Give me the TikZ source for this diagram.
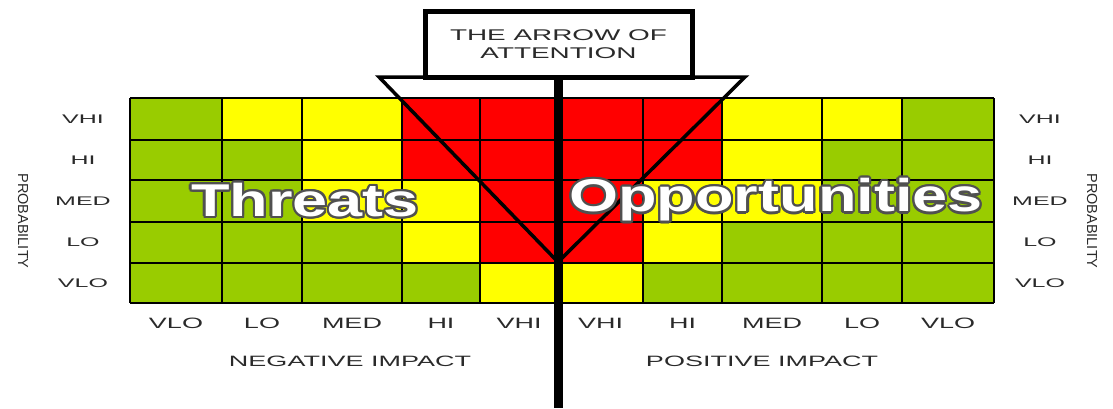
\documentclass[tikz,border=0pt]{standalone}
\usepackage{fontspec}
\setmainfont{Liberation Sans}
\newfontfamily\labfnt[FakeStretch=1.8]{Liberation Sans}
\newfontfamily\rowfnt[FakeStretch=2.0]{Liberation Sans}
\newfontfamily\bigfnt[FakeStretch=1.37]{Liberation Sans}
\definecolor{gr}{HTML}{99CC00}
\definecolor{ye}{HTML}{FFFF00}
\definecolor{rd}{HTML}{FF0000}
\definecolor{txt}{HTML}{2A2A2A}
\definecolor{outl}{HTML}{505050}
\begin{document}
\begin{tikzpicture}[x=1pt,y=-1pt,
  gridline/.style={draw=black,line width=1.4pt},
  rowlab/.style={text=txt,inner sep=0pt,font=\rowfnt\fontsize{12.5}{14}\selectfont},
  collab/.style={text=txt,inner sep=0pt,font=\labfnt\fontsize{15}{17}\selectfont},
  axislab/.style={text=txt,inner sep=0pt,font=\labfnt\fontsize{15}{17}\selectfont},
  prob/.style={text=txt,inner sep=0pt,rotate=-90,font=\fontsize{14.5}{16}\selectfont},
  attbox/.style={draw=black,fill=white,line width=5pt,inner sep=0pt,minimum width=267pt,minimum height=65.5pt,align=center,text=txt,font=\labfnt\fontsize{15.5}{17.5}\selectfont},
  tri/.style={draw=black,line width=3.5pt},
  stemline/.style={draw=black,line width=9pt},
  bigtxt/.style={inner sep=0pt,font=\bigfnt\bfseries\fontsize{46}{50}\selectfont}
]
\useasboundingbox (0,0) rectangle (1113,408);
\def\colx{{130,222,302,402,480,558,643,722,822,902,994}}
\def\rowy{{98,140,180,222,263,303}}
% cells
\foreach \row [count=\r from 0] in {{gr,ye,ye,rd,rd,rd,rd,ye,ye,gr},{gr,gr,ye,rd,rd,rd,rd,ye,gr,gr},{gr,gr,ye,ye,rd,rd,ye,ye,gr,gr},{gr,gr,gr,ye,rd,rd,ye,gr,gr,gr},{gr,gr,gr,gr,ye,ye,gr,gr,gr,gr}}{
  \foreach \c [count=\i from 0] in \row {
    \pgfmathsetmacro\xa{\colx[\i]}
    \pgfmathsetmacro\xb{\colx[\i+1]}
    \pgfmathsetmacro\ya{\rowy[\r]}
    \pgfmathsetmacro\yb{\rowy[\r+1]}
    \fill[\c] (\xa,\ya) rectangle (\xb,\yb);
  }
}
% grid lines
\foreach \x in {130,222,302,402,480,558,643,722,822,902,994}
  \draw[gridline] (\x,98) -- (\x,303);
\foreach \y in {98,140,180,222,263,303}
  \draw[gridline] (130,\y) -- (994,\y);
% row labels
\foreach \t/\yc [count=\i from 0] in {VHI/119,HI/160,MED/201,LO/242.5,VLO/283}{
  \node[rowlab] (lrow\i) at (83,\yc) {\t};
  \node[rowlab] (rrow\i) at (1040,\yc) {\t};
}
% column labels
\foreach \t/\xc [count=\i from 0] in {VLO/176,LO/262,MED/352,HI/441,VHI/519,VHI/600.5,HI/682.5,MED/772,LO/862,VLO/948}{
  \node[collab] (col\i) at (\xc,323) {\t};
}
\node[axislab] (neg) at (350,361) {NEGATIVE IMPACT};
\node[axislab] (pos) at (762,361) {POSITIVE IMPACT};
\node[prob] (probL) at (23,221) {PROBABILITY};
\node[prob] (probR) at (1092,221) {PROBABILITY};
% arrow of attention
\coordinate (tl) at (379,77);
\coordinate (tr) at (745,77);
\coordinate (apex) at (558,262);
\draw[tri] (tl) -- (tr) -- (apex) -- cycle;
\node[attbox] (box) at (558.5,44.25) {THE ARROW OF\\ATTENTION};
\coordinate (stemend) at (558,408);
\draw[stemline] (stemend |- box.south) -- (stemend);
% big outlined words
\foreach \a [count=\k] in {0,22.5,...,337.5}{
  \node[bigtxt,text=outl] (thsh\k) at ([shift={(\a:2.2)}]305,200) {Threats};
  \node[bigtxt,text=outl] (opsh\k) at ([shift={(\a:2.2)}]776,200) {Opportunities};
}
\node[bigtxt,text=white] (threats) at (305,200) {Threats};
\node[bigtxt,text=white] (opps) at (776,200) {Opportunities};
\end{tikzpicture}
\end{document}
